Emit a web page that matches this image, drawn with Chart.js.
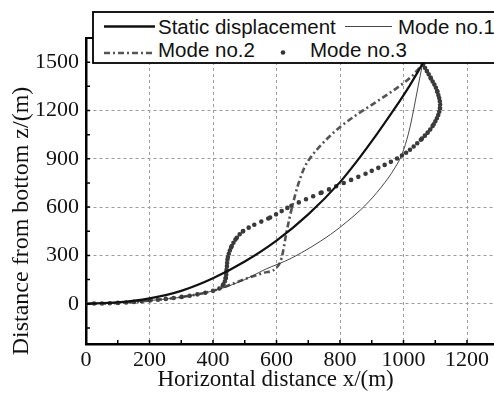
<!DOCTYPE html>
<html>
<head>
<meta charset="utf-8">
<script src="https://cdn.jsdelivr.net/npm/chart.js@4.4.0/dist/chart.umd.min.js"></script>
<style>
  html, body { margin: 0; padding: 0; background: #fff; overflow: hidden; }
  #wrap { position: relative; width: 494px; height: 394px; }
  #legend { position: absolute; left: 0; top: 0; }
  #legend text { font-family: "Liberation Sans", Arial, sans-serif; font-size: 20.5px; fill: #111; }
</style>
</head>
<body>
<div id="wrap">
  <canvas id="chart" width="494" height="394"></canvas>
  <svg id="legend" width="494" height="70" xmlns="http://www.w3.org/2000/svg">
    <rect x="93" y="12" width="420" height="51" fill="#fff" stroke="#000" stroke-width="1.8"/>
    <line x1="104" y1="26.5" x2="155" y2="26.5" stroke="#111" stroke-width="2.4"/>
    <line x1="345" y1="26.5" x2="392" y2="26.5" stroke="#333" stroke-width="0.9"/>
    <line x1="104" y1="53" x2="152" y2="53" stroke="#555" stroke-width="2.6" stroke-dasharray="6 3 2 3"/>
    <circle cx="283" cy="52.5" r="2.3" fill="#333"/>
    <text id="lg0" x="158" y="34"></text>
    <text id="lg1" x="398" y="34"></text>
    <text id="lg2" x="158" y="57"></text>
    <text id="lg3" x="310" y="57"></text>
  </svg>
</div>
<script>
// series names (legend order)
const SERIES_NAMES = ['Static displacement', 'Mode no.1', 'Mode no.2', 'Mode no.3'];

// axis titles
const X_TITLE = 'Horizontal distance x/(m)';
const Y_TITLE = 'Distance from bottom z/(m)';

// axis ranges / tick steps
const X_MIN = 0, X_MAX = 1285, X_STEP = 100, X_LABEL_STEP = 200;
const Y_MIN = -250, Y_MAX = 1650, Y_STEP = 150, Y_LABEL_STEP = 300;

// static displacement (x, z)
const STATIC_X = [0, 100, 200, 300, 400, 500, 600, 700, 800, 857, 915, 968, 1018, 1060];
const STATIC_Z = [0, 8, 33, 80, 158, 262, 392, 555, 755, 895, 1050, 1200, 1350, 1490];

// mode no.1
const MODE1_X = [0, 100, 200, 300, 360, 422, 500, 564, 647, 770, 824, 877, 930, 973, 995, 1016, 1032, 1045, 1060];
const MODE1_Z = [0, 5, 20, 40, 62, 92, 150, 213, 283, 430, 513, 606, 724, 844, 927, 1060, 1205, 1340, 1490];

// mode no.2
const MODE2_X = [0, 100, 200, 300, 400, 507, 560, 598, 616, 632, 649, 668, 689, 710, 740, 770, 802, 850, 900, 950, 1000, 1030, 1060];
const MODE2_Z = [0, 5, 20, 42, 80, 158, 192, 220, 284, 449, 600, 739, 850, 915, 985, 1045, 1100, 1170, 1235, 1300, 1370, 1420, 1490];

// mode no.3
const MODE3_X = [0, 100, 200, 300, 380, 420, 433, 440, 443, 447, 459, 475, 495, 530, 580, 647, 742, 803, 900, 995, 1058, 1095, 1115, 1106, 1085, 1060];
const MODE3_Z = [0, 5, 20, 42, 70, 95, 120, 160, 213, 290, 358, 410, 451, 490, 535, 608, 690, 742, 825, 920, 1025, 1114, 1217, 1320, 1404, 1490];

const pts = (xs, zs) => xs.map((x, i) => ({ x, y: zs[i] }));

SERIES_NAMES.forEach((n, i) => { document.getElementById('lg' + i).textContent = n; });

const SERIF = '"Liberation Serif", "Times New Roman", serif';
Chart.defaults.font.family = SERIF;
Chart.defaults.color = '#111';

// inward tick marks + top frame line
const innerTicks = {
  id: 'innerTicks',
  afterDraw(chart) {
    const { ctx, chartArea: a, scales: { x, y } } = chart;
    ctx.save();
    ctx.strokeStyle = '#000';
    ctx.lineWidth = 1.5;
    ctx.beginPath();
    x.ticks.forEach(t => {
      const px = x.getPixelForValue(t.value);
      ctx.moveTo(px, a.bottom);
      ctx.lineTo(px, a.bottom - 4);
    });
    y.ticks.forEach(t => {
      const py = y.getPixelForValue(t.value);
      ctx.moveTo(a.left, py);
      ctx.lineTo(a.left + 4, py);
    });
    ctx.stroke();
    ctx.lineWidth = 2;
    ctx.beginPath();
    ctx.moveTo(a.left, a.top);
    ctx.lineTo(a.right, a.top);
    ctx.stroke();
    ctx.restore();
  }
};

// dots spaced more closely where the curve runs steeply
function dotDash(ctx) {
  const dx = ctx.p1.x - ctx.p0.x, dy = ctx.p1.y - ctx.p0.y;
  const gap = Math.min(8, 3.2 * Math.hypot(dx, dy) / Math.max(Math.abs(dy), 0.1));
  return [0, gap];
}

new Chart(document.getElementById('chart'), {
  type: 'scatter',
  data: {
    datasets: [
      {
        label: SERIES_NAMES[0], data: pts(STATIC_X, STATIC_Z), showLine: true,
        borderColor: '#111', borderWidth: 2.2, pointRadius: 0, cubicInterpolationMode: 'monotone',
      },
      {
        label: SERIES_NAMES[1], data: pts(MODE1_X, MODE1_Z), showLine: true,
        borderColor: '#333', borderWidth: 0.9, pointRadius: 0, cubicInterpolationMode: 'monotone',
      },
      {
        label: SERIES_NAMES[2], data: pts(MODE2_X, MODE2_Z), showLine: true,
        borderColor: '#555', borderWidth: 2.6, borderDash: [6, 3, 2, 3], pointRadius: 0,
        cubicInterpolationMode: 'monotone',
      },
      {
        label: SERIES_NAMES[3], data: pts(MODE3_X, MODE3_Z), showLine: true,
        borderColor: '#3a3a3a', borderWidth: 4.6, borderCapStyle: 'round', borderDash: [0, 6],
        segment: { borderDash: dotDash },
        pointRadius: 0, tension: 0.35,
      },
    ],
  },
  options: {
    responsive: false,
    animation: false,
    layout: { padding: { top: 38, right: 0, left: 0, bottom: 0 } },
    plugins: { legend: { display: false }, tooltip: { enabled: false } },
    scales: {
      x: {
        type: 'linear', min: X_MIN, max: X_MAX,
        afterFit: s => { s.height = 50; },
        border: { color: '#000', width: 2.5, dash: [3, 3] },
        grid: {
          drawTicks: false, lineWidth: 1,
          color: c => (c.tick && c.tick.value % X_LABEL_STEP === 0 ? '#9c9c9c' : 'rgba(0,0,0,0)'),
        },
        ticks: {
          stepSize: X_STEP, includeBounds: false, autoSkip: false, maxRotation: 0, padding: 3,
          color: '#111', font: { family: SERIF, size: 22 },
          callback: v => (v % X_LABEL_STEP === 0 ? v : ''),
        },
        title: {
          display: true, text: X_TITLE + '\u00a0\u00a0\u00a0\u00a0\u00a0', color: '#111',
          font: { family: SERIF, size: 23 }, padding: { top: 0, bottom: 0 },
        },
      },
      y: {
        type: 'linear', min: Y_MIN, max: Y_MAX,
        afterFit: s => { s.width = 86; },
        border: { color: '#000', width: 2.5, dash: [3, 3] },
        grid: {
          drawTicks: false, lineWidth: 1,
          color: c => (c.tick && c.tick.value % Y_LABEL_STEP === 0 ? '#9c9c9c' : 'rgba(0,0,0,0)'),
        },
        ticks: {
          stepSize: Y_STEP, includeBounds: false, autoSkip: false, padding: 7,
          color: '#111', font: { family: SERIF, size: 22 },
          callback: v => (v % Y_LABEL_STEP === 0 ? v : ''),
        },
        title: {
          display: true, text: Y_TITLE + '\u00a0\u00a0\u00a0\u00a0\u00a0\u00a0\u00a0\u00a0\u00a0\u00a0', color: '#111',
          font: { family: SERIF, size: 24 }, padding: { top: 7, bottom: 0 },
        },
      },
    },
  },
  plugins: [innerTicks],
});
</script>
</body>
</html>
